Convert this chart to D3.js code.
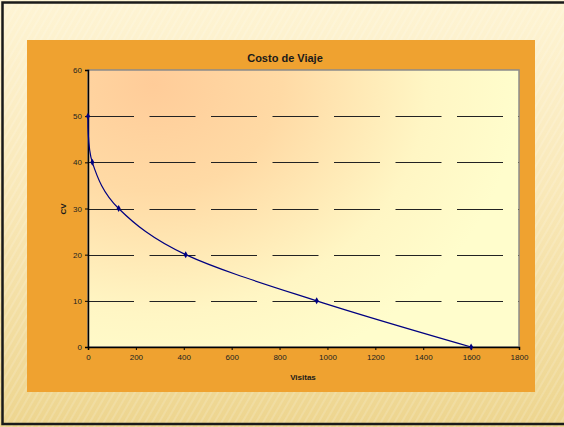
<!DOCTYPE html>
<html><head><meta charset="utf-8">
<script src="https://cdn.jsdelivr.net/npm/d3@7"></script>
<style>html,body{margin:0;padding:0;overflow:hidden;background:#fff}</style>
</head><body>
<script>
const visitas = [0, 18, 128, 408, 955, 1600];
const cv = [50, 40, 30, 20, 10, 0];
const xTicks = [0, 200, 400, 600, 800, 1000, 1200, 1400, 1600, 1800];
const yTicks = [0, 10, 20, 30, 40, 50, 60];
const title = "Costo de Viaje";
const xLabel = "Visitas";
const yLabel = "CV";

const W = 564, H = 427;
const svg = d3.select("body").append("svg").attr("width", W).attr("height", H);
const defs = svg.append("defs");

const bg = defs.append("linearGradient").attr("id","bg").attr("x1",0).attr("y1",0).attr("x2",0).attr("y2",1);
bg.append("stop").attr("offset","0%").attr("stop-color","#FEF4D4");
bg.append("stop").attr("offset","45%").attr("stop-color","#F9E8B8");
bg.append("stop").attr("offset","100%").attr("stop-color","#EDD58F");

const pat = defs.append("pattern").attr("id","stripes").attr("width",6).attr("height",6)
  .attr("patternUnits","userSpaceOnUse").attr("patternTransform","rotate(30)");
pat.append("rect").attr("width",2).attr("height",6).attr("fill","#ffffff").attr("opacity",0.14);

const pg = defs.append("radialGradient").attr("id","plotbg").attr("cx","0.15").attr("cy","0.05").attr("r","0.85")
  .attr("gradientTransform","translate(0.15,0.05) scale(1,1.3) translate(-0.15,-0.05)");
pg.append("stop").attr("offset","0%").attr("stop-color","#FFCC99");
pg.append("stop").attr("offset","35%").attr("stop-color","#FFDAA5");
pg.append("stop").attr("offset","75%").attr("stop-color","#FFF6C4");
pg.append("stop").attr("offset","100%").attr("stop-color","#FFFDCC");

svg.append("rect").attr("x",0).attr("y",0).attr("width",W).attr("height",H).attr("fill","url(#bg)");
svg.append("rect").attr("x",0).attr("y",0).attr("width",W).attr("height",H).attr("fill","url(#stripes)");
svg.append("rect").attr("x",2.5).attr("y",2.5).attr("width",W+5).attr("height",H-5.5)
  .attr("fill","none").attr("stroke","#1a1a1a").attr("stroke-width",2.5);

// Orange chart panel
svg.append("rect").attr("x",27).attr("y",40).attr("width",508).attr("height",352).attr("fill","#EFA230");

const x = d3.scaleLinear().domain([0,1800]).range([88,519]);
const y = d3.scaleLinear().domain([0,60]).range([347,70]);

svg.append("rect").attr("x",x(0)).attr("y",y(60)).attr("width",x(1800)-x(0)).attr("height",y(0)-y(60))
  .attr("fill","url(#plotbg)").attr("stroke","#8c8c8c").attr("stroke-width",1.5);

// gridlines
svg.append("g").selectAll("line").data(yTicks.filter(d=>d>0 && d<60)).join("line")
  .attr("x1",x(0)).attr("x2",x(1800)).attr("y1",d=>Math.round(y(d))+0.5).attr("y2",d=>Math.round(y(d))+0.5)
  .attr("stroke","#222").attr("stroke-width",1).attr("stroke-dasharray","46,15.5");

// axes
const fontFam = "Arial, 'Liberation Sans', Helvetica, sans-serif";
const yAxis = svg.append("g").attr("transform",`translate(${x(0)},0)`)
  .call(d3.axisLeft(y).tickValues(yTicks).tickFormat(d3.format("d")).tickSize(3).tickPadding(3));
const xAxis = svg.append("g").attr("transform",`translate(0,${y(0)})`)
  .call(d3.axisBottom(x).tickValues(xTicks).tickFormat(d3.format("d")).tickSize(3).tickPadding(4));
[xAxis,yAxis].forEach(a=>{
  a.select(".domain").attr("stroke","#000").attr("stroke-width",1.5);
  a.selectAll(".tick line").attr("stroke","#000");
  a.selectAll(".tick text").attr("fill","#222").attr("font-size","8px").attr("font-family",fontFam);
});

// line
const pts = visitas.map((v,i)=>[v,cv[i]]);
const line = d3.line().x(d=>x(d[0])).y(d=>y(d[1])).curve(d3.curveCardinal.tension(0));
svg.append("path").datum(pts).attr("d",line).attr("fill","none").attr("stroke","#000080").attr("stroke-width",1.2);
svg.append("g").selectAll("path").data(pts).join("path")
  .attr("transform",d=>`translate(${x(d[0])},${y(d[1])})`)
  .attr("d",d3.symbol(d3.symbolDiamond,14)).attr("fill","#000080");

// texts
svg.append("text").attr("x",285).attr("y",62).attr("text-anchor","middle")
  .attr("font-family",fontFam).attr("font-weight","bold").attr("font-size","11px").attr("fill","#1a1a1a").text(title);
svg.append("text").attr("x",303).attr("y",380).attr("text-anchor","middle")
  .attr("font-family",fontFam).attr("font-weight","bold").attr("font-size","8px").attr("fill","#1a1a1a").text(xLabel);
svg.append("text").attr("transform","translate(66,209) rotate(-90)").attr("text-anchor","middle")
  .attr("font-family",fontFam).attr("font-weight","bold").attr("font-size","8px").attr("fill","#1a1a1a").text(yLabel);
</script>
</body></html>
